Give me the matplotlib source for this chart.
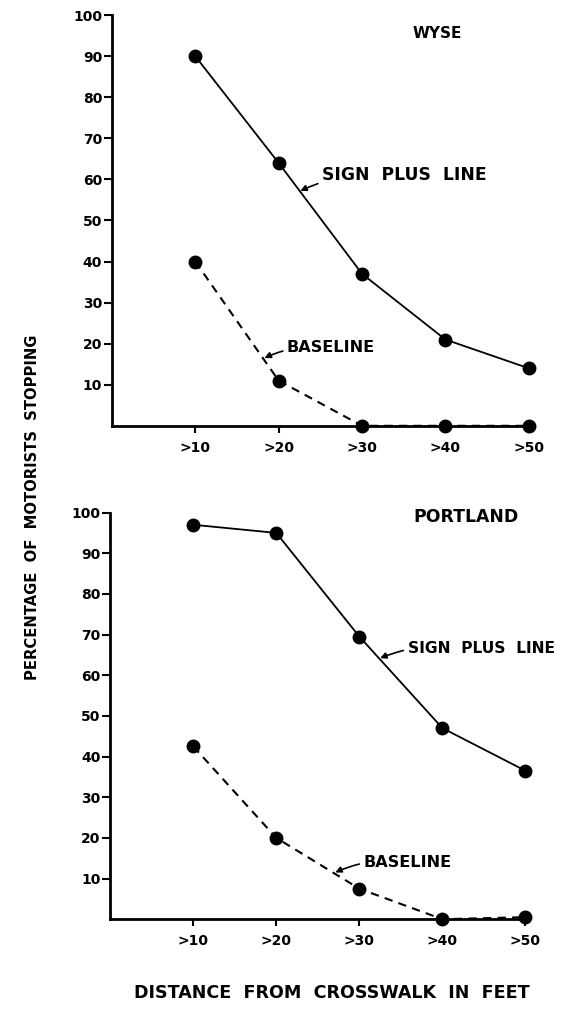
import matplotlib.pyplot as plt
import numpy as np

plt.rcParams['font.family'] = ['DejaVu Sans']
plt.rcParams['font.weight'] = 'bold'

# distance categories (feet)
distances = [1, 2, 3, 4, 5]
dist_labels = ['>10', '>20', '>30', '>40', '>50']
yticks = [10, 20, 30, 40, 50, 60, 70, 80, 90, 100]

# percentage of motorists stopping
wyse_sign = [90, 64, 37, 21, 14]
wyse_base = [40, 11, 0, 0, 0]
portland_sign = [97, 95, 69.5, 47, 36.5]
portland_base = [42.5, 20, 7.5, 0, 0.5]

fig = plt.figure(figsize=(5.65, 10.09), dpi=100)
ax1 = fig.add_axes([0.198, 0.578, 0.738, 0.407])
ax2 = fig.add_axes([0.195, 0.089, 0.735, 0.403])


def panel(ax, sign, base, title, title_xy, title_fs, label_fs, sign_txt, sign_tip, base_txt, base_tip):
    ax.plot(distances, sign, '-', color='black', lw=1.3, marker='o', ms=9, clip_on=False, zorder=3)
    ax.plot(distances, base, color='black', lw=1.5, ls=(0, (4, 3)), marker='o', ms=9,
            clip_on=False, zorder=3)
    ax.set_xlim(0, 5)
    ax.set_ylim(0, 100)
    ax.set_xticks(distances)
    ax.set_xticklabels(dist_labels)
    ax.set_yticks(yticks)
    for s in ['top', 'right']:
        ax.spines[s].set_visible(False)
    for s in ['left', 'bottom']:
        ax.spines[s].set_linewidth(2)
    ax.tick_params(axis='y', direction='out', length=6, width=1.5, pad=1, labelsize=10)
    ax.tick_params(axis='x', direction='out', length=5, width=1.5, pad=6, labelsize=10)
    ax.text(title_xy[0], title_xy[1], title, ha='center', va='center', fontsize=title_fs, fontweight='bold')
    arrow = dict(arrowstyle='-|>', color='black', lw=1.2, mutation_scale=9,
                 connectionstyle='arc3,rad=0.15', shrinkA=1, shrinkB=0)
    ax.annotate('SIGN  PLUS  LINE', xy=sign_tip, xytext=sign_txt, ha='left', va='center',
                fontsize=label_fs, fontweight='bold', arrowprops=arrow)
    ax.annotate('BASELINE', xy=base_tip, xytext=base_txt, ha='left', va='center',
                fontsize=11.6, fontweight='bold', arrowprops=arrow)


panel(ax1, wyse_sign, wyse_base, 'WYSE', (3.9, 95.5), 11, 12.3,
      (2.52, 61), (2.26, 57.2), (2.1, 19), (1.83, 16.5))
panel(ax2, portland_sign, portland_base, 'PORTLAND', (4.28, 98.8), 12.4, 11.2,
      (3.58, 66.5), (3.25, 64.2), (3.05, 14), (2.71, 11.5))

fig.text(0.057, 0.497, 'PERCENTAGE  OF  MOTORISTS  STOPPING', rotation=90, ha='center', va='center',
         fontsize=10.6, fontweight='bold')
fig.text(0.588, 0.016, 'DISTANCE  FROM  CROSSWALK  IN  FEET', ha='center', va='center',
         fontsize=12.6, fontweight='bold')

fig.savefig('out.png', dpi=100)
